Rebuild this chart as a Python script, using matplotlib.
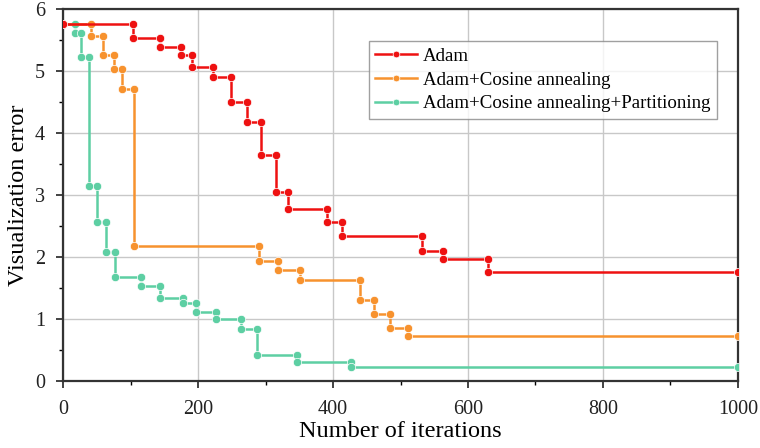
import numpy as np
import matplotlib
matplotlib.use("Agg")
import matplotlib.pyplot as plt
from matplotlib.ticker import MultipleLocator

plt.rcParams['font.family'] = ['Liberation Serif', 'DejaVu Serif']

# step change points (x) and level held after each one (y)
adam_x = [0, 103, 143, 175, 191, 222, 249, 273, 294, 316, 334, 391, 413, 532, 563, 629, 1000]
adam_y = [5.76, 5.53, 5.38, 5.25, 5.06, 4.90, 4.50, 4.17, 3.64, 3.04, 2.78, 2.56, 2.33, 2.09, 1.96, 1.75]

cos_x = [0, 42, 59, 76, 87, 105, 291, 318, 351, 440, 460, 485, 511, 1000]
cos_y = [5.76, 5.57, 5.26, 5.03, 4.71, 2.17, 1.94, 1.78, 1.62, 1.31, 1.07, 0.86, 0.73]

part_x = [0, 17, 27, 38, 51, 64, 77, 115, 143, 178, 197, 226, 263, 287, 346, 426, 1000]
part_y = [5.76, 5.62, 5.23, 3.14, 2.57, 2.08, 1.68, 1.53, 1.34, 1.25, 1.11, 0.99, 0.84, 0.41, 0.30, 0.22]

labels = ["Adam", "Adam+Cosine annealing", "Adam+Cosine annealing+Partitioning"]
colors = ["#ee1111", "#f7922e", "#5dcfa3"]


def steps(x, y):
    # each level is drawn as a segment with a marker at both ends
    xs, ys = [], []
    for i in range(len(y)):
        xs += [x[i], x[i + 1]]
        ys += [y[i], y[i]]
    return np.array(xs), np.array(ys)


fig = plt.figure(figsize=(7.6, 4.48), dpi=100)
ax = fig.add_axes([0.083, 0.150, 0.888, 0.830])

series = [(part_x, part_y), (cos_x, cos_y), (adam_x, adam_y)]
order = [2, 1, 0]
for (x, y), k in zip(series, order):
    xs, ys = steps(x, y)
    ax.plot(xs, ys, color=colors[k], lw=1.8, marker="o", ms=6,
            mec="white", mew=0.5, label=labels[k], zorder=3 + (2 - k))

ax.set_xlim(0, 1000)
ax.set_ylim(0, 6)
ax.xaxis.set_major_locator(MultipleLocator(200))
ax.xaxis.set_minor_locator(MultipleLocator(100))
ax.yaxis.set_major_locator(MultipleLocator(1))
ax.yaxis.set_minor_locator(MultipleLocator(0.5))
ax.grid(True, which="major", color="#c8c8c8", lw=1.0)
ax.set_axisbelow(True)
ax.tick_params(which="major", direction="out", length=5, width=1.2, labelsize=14.5, colors="#222222")
ax.tick_params(axis="x", which="major", pad=9)
ax.tick_params(axis="y", which="major", pad=8)
ax.tick_params(which="minor", direction="out", length=3, width=1.0)
for s in ax.spines.values():
    s.set_linewidth(1.6)
    s.set_color("#333333")

ax.set_xlabel("Number of iterations", fontsize=17.5, labelpad=1)
ax.set_ylabel("Visualization error", fontsize=17.5, labelpad=4)

h, l = ax.get_legend_handles_labels()
leg = ax.legend(h[::-1], l[::-1], loc="upper left", bbox_to_anchor=(0.453, 0.914),
                borderaxespad=0, fontsize=13.6, frameon=True, fancybox=False,
                edgecolor="#888888", handlelength=2.2, handletextpad=0.3,
                borderpad=0.35, labelspacing=0.35, markerscale=0.8)
leg.get_frame().set_linewidth(1.0)

fig.savefig("out.png", dpi=100)
